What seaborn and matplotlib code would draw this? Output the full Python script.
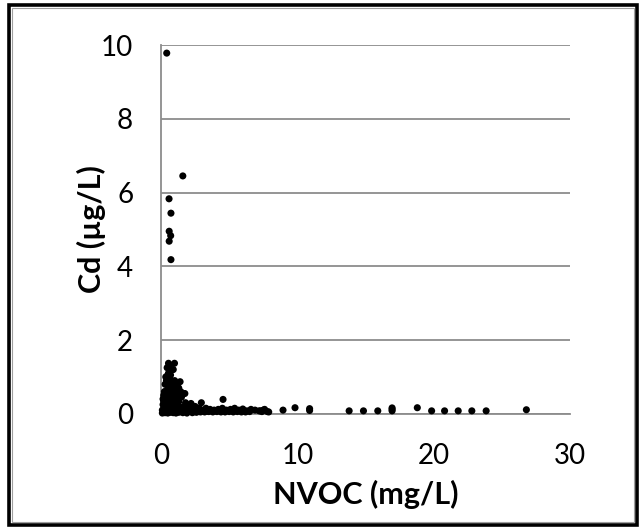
import matplotlib
matplotlib.use("Agg")
import matplotlib.pyplot as plt
from matplotlib.patches import Rectangle
import seaborn as sns
import pandas as pd

# NVOC (mg/L) and Cd (ug/L) measurements
nvoc = [
    0.42, 1.6, 0.59, 0.73, 0.6, 0.71, 0.6, 0.73,
    0.55, 0.99, 0.8, 0.9, 0.7, 0.65, 0.6, 1.4, 1.0, 0.85, 0.5, 0.7, 1.2, 0.3, 0.45,
    1.75, 0.9, 1.5, 0.2, 0.35, 0.6, 0.8, 1.1, 0.25, 0.4, 0.55, 0.75, 1.0, 1.3, 1.8,
    2.2, 2.96, 0.15, 0.3, 0.5, 0.7, 0.9, 1.1, 1.4, 1.7, 2.0, 2.5, 0.1, 0.2, 0.35,
    0.5, 0.65, 0.8, 1.0, 1.2, 1.5, 1.8, 2.1, 2.4, 2.7, 3.0, 3.3, 3.6, 3.9, 4.2,
    4.55, 4.5, 4.8, 5.1, 5.4, 5.7, 6.0, 6.3, 6.6, 6.9, 7.2, 7.5, 7.8,
    0.1, 0.3, 0.5, 0.7, 0.9, 1.1, 1.3, 1.6, 1.9, 2.3, 2.6, 2.9, 3.2, 3.5, 3.8,
    4.1, 4.4, 4.7, 5.0, 5.3, 5.6, 5.9, 6.2, 6.5,
    0.15, 0.25, 0.4, 0.55, 0.45, 0.3, 0.2, 0.65, 0.85, 1.05, 1.25, 1.15, 0.95,
    0.5, 0.4, 0.3, 1.6, 1.9, 2.2, 2.4, 2.8, 3.4, 4.0, 0.35, 0.5, 0.45, 0.6, 0.75,
    1.3, 1.45, 1.2, 1.1,
    7.3, 7.6, 7.4, 7.9,
    8.95, 9.83, 10.9, 10.9, 13.8, 14.85, 15.9, 16.95, 16.95, 16.95, 18.8, 19.85,
    20.8, 21.8, 22.8, 23.85, 26.8,
]
cd = [
    9.78, 6.45, 5.83, 5.44, 4.95, 4.83, 4.68, 4.18,
    1.37, 1.37, 1.19, 1.2, 1.05, 0.95, 0.87, 0.87, 0.9, 0.8, 0.75, 0.7, 0.65, 0.6, 0.62,
    0.55, 0.55, 0.45, 0.5, 0.45, 0.5, 0.45, 0.42, 0.35, 0.38, 0.32, 0.35, 0.3, 0.33, 0.3,
    0.28, 0.3, 0.25, 0.22, 0.2, 0.22, 0.2, 0.2, 0.18, 0.2, 0.18, 0.2, 0.1, 0.12, 0.1,
    0.08, 0.12, 0.1, 0.08, 0.1, 0.08, 0.1, 0.08, 0.1, 0.12, 0.1, 0.15, 0.12, 0.1, 0.12,
    0.39, 0.15, 0.1, 0.12, 0.15, 0.1, 0.13, 0.08, 0.12, 0.1, 0.08, 0.1, 0.06,
    0.02, 0.03, 0.02, 0.04, 0.03, 0.02, 0.04, 0.03, 0.02, 0.03, 0.04, 0.05, 0.05, 0.06, 0.05,
    0.06, 0.05, 0.05, 0.06, 0.05, 0.06, 0.05, 0.05, 0.06,
    0.4, 0.6, 0.9, 1.1, 1.25, 0.8, 0.35, 0.25, 0.6, 0.7, 0.5, 0.25, 0.15,
    0.15, 0.05, 0.05, 0.12, 0.15, 0.12, 0.06, 0.15, 0.07, 0.08, 1.0, 1.05, 0.95, 1.3, 0.6,
    0.7, 0.6, 0.8, 0.75,
    0.08, 0.12, 0.06, 0.05,
    0.1, 0.165, 0.14, 0.09, 0.08, 0.08, 0.08, 0.16, 0.12, 0.08, 0.165, 0.08,
    0.08, 0.08, 0.08, 0.08, 0.11,
]

x_ticks = [0, 10, 20, 30]
y_ticks = [0, 2, 4, 6, 8, 10]

df = pd.DataFrame({"NVOC": nvoc, "Cd": cd})

sns.set_style("white")
plt.rcParams["font.family"] = ["Lato", "DejaVu Sans"]

W, H = 643, 530
fig = plt.figure(figsize=(W / 100, H / 100), dpi=100)
ax = fig.add_axes([161 / W, 1 - 413.8 / H, (570 - 161) / W, (413.8 - 45) / H])

grid_c = "#8c8c8c"
sns.scatterplot(data=df, x="NVOC", y="Cd", ax=ax, color="black", s=26,
                edgecolor="none", linewidth=0, zorder=3, clip_on=False)

ax.set_xlim(0, 30)
ax.set_ylim(0, 10)
ax.set_xticks(x_ticks)
ax.set_yticks(y_ticks)
ax.set_xticklabels([str(t) for t in x_ticks])
ax.set_yticklabels([str(t) for t in y_ticks])
ax.yaxis.grid(True, color=grid_c, linewidth=1.3)
ax.xaxis.grid(False)
ax.set_axisbelow(True)

for side in ["top", "right"]:
    ax.spines[side].set_visible(False)
for side in ["left", "bottom"]:
    ax.spines[side].set_color(grid_c)
    ax.spines[side].set_linewidth(1.3)

ax.tick_params(axis="both", which="both", direction="out", color=grid_c,
               width=1.3, labelsize=20, labelcolor="black")
ax.tick_params(axis="x", length=9, pad=12)
ax.tick_params(axis="y", length=7, pad=13)

ax.set_xlabel("NVOC (mg/L)", fontsize=22, fontweight="bold", color="black",
              labelpad=8)
ax.set_ylabel("Cd (µg/L)", fontsize=22, fontweight="bold", color="black")
ax.yaxis.set_label_coords(-0.135, 0.5)

# chart frame
fig.patches.append(Rectangle((9 / W, 5 / H), (637 - 9) / W, (525 - 5) / H,
                             transform=fig.transFigure, fill=False,
                             edgecolor="black", linewidth=2.6, zorder=0))
fig.patches.append(Rectangle((12 / W, 8 / H), (634 - 12) / W, (522 - 8) / H,
                             transform=fig.transFigure, fill=False,
                             edgecolor="#a0a0a0", linewidth=0.8, zorder=0))

fig.savefig("out.png", dpi=100)
